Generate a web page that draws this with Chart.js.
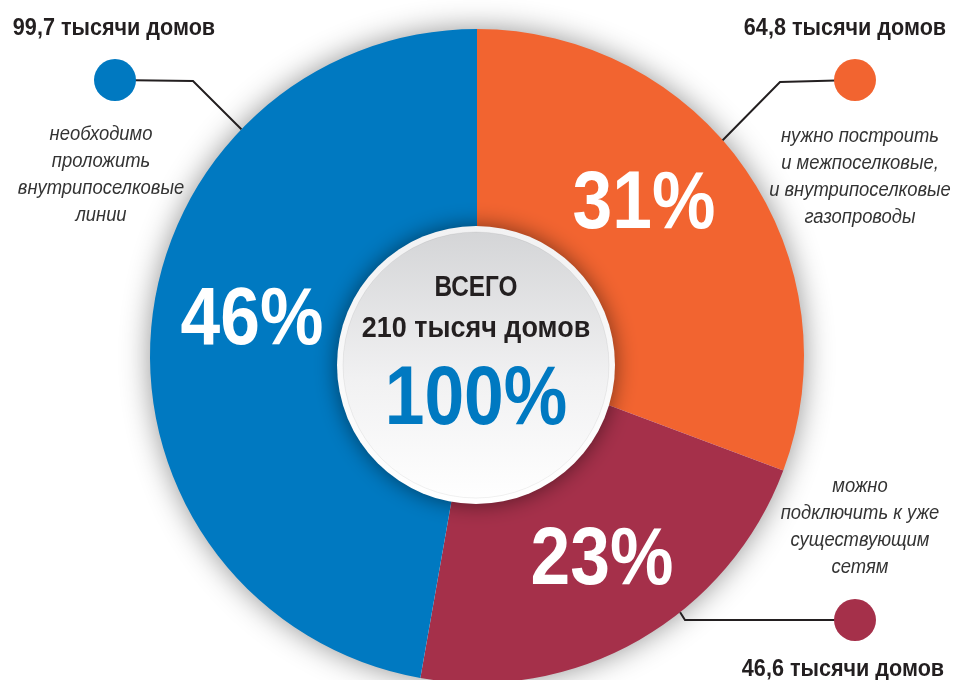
<!DOCTYPE html>
<html>
<head>
<meta charset="utf-8">
<script src="https://cdn.jsdelivr.net/npm/chart.js@4"></script>
<style>
  body { margin: 0; background: #fff; overflow: hidden; }
  #wrap { position: relative; width: 956px; height: 700px; }
  .t { position: absolute; transform: translate(-50%, -50%) scaleX(var(--sx, 0.84)); white-space: nowrap; text-align: center;
       font-family: "Liberation Sans", Arial, sans-serif; }
  .head { font-weight: bold; font-size: 24px; color: #231f20; --sx: 0.9; }
  .note { font-style: italic; font-size: 20px; line-height: 27px; color: #333; --sx: 0.92; }
  .pct { font-weight: bold; font-size: 82px; color: #fff; --sx: 0.87; }
  .mid { font-weight: bold; font-size: 29px; color: #231f20; --sx: 0.84; }
  .mid2 { font-weight: bold; font-size: 29px; color: #231f20; --sx: 0.93; }
  .big { font-weight: bold; font-size: 83px; color: #0079c1; --sx: 0.86; }
</style>
</head>
<body>
<div id="wrap">
  <canvas id="myChart" width="956" height="700"></canvas>
</div>
<script>
// data, clockwise from 12 o'clock
var categories = ["нужно построить и межпоселковые, и внутрипоселковые газопроводы",
                  "можно подключить к уже существующим сетям",
                  "необходимо проложить внутрипоселковые линии"];
var houses = [64.8, 46.6, 99.7]; // тысячи домов
var percentLabels = ["31%", "23%", "46%"];
var houseLabels = ["64,8 тысячи домов", "46,6 тысячи домов", "99,7 тысячи домов"];
var noteLines = [
  ["нужно построить", "и межпоселковые,", "и внутрипоселковые", "газопроводы"],
  ["можно", "подключить к уже", "существующим", "сетям"],
  ["необходимо", "проложить", "внутрипоселковые", "линии"]
];
var totalLabel = ["ВСЕГО", "210 тысяч домов", "100%"];
var colors = ["#f26430", "#a5304a", "#0079c1"];

// layout of the callouts (dot, elbow, angle where the line meets the ring)
var callouts = [
  { dot: [855, 80], elbow: [780, 82], angle: 48.7, head: [845, 27], note: [860, 135] },
  { dot: [855, 620], elbow: [685, 620], angle: 141.6, head: [843, 668], note: [860, 485] },
  { dot: [115, 80], elbow: [193, 81], angle: 313.9, head: [114, 27], note: [101, 133] }
];
var pctPos = [[644, 200], [602, 556], [252, 316]];

var wrap = document.getElementById("wrap");
function addText(cls, txt, x, y) {
  var d = document.createElement("div");
  d.className = "t " + cls;
  d.textContent = txt;
  d.style.left = x + "px";
  d.style.top = y + "px";
  wrap.appendChild(d);
  return d;
}

var ringShadow = {
  id: "ringShadow",
  beforeDatasetsDraw: function (chart) {
    var a = chart.getDatasetMeta(0).data[0];
    var ctx = chart.ctx;
    ctx.save();
    ctx.shadowColor = "rgba(0,0,0,0.45)";
    ctx.shadowBlur = 30;
    ctx.beginPath();
    ctx.arc(a.x, a.y, a.outerRadius - 1, 0, Math.PI * 2);
    ctx.fillStyle = "#fff";
    ctx.fill();
    ctx.restore();
  },
  afterDatasetsDraw: function (chart) {
    var a = chart.getDatasetMeta(0).data[0];
    var ctx = chart.ctx;
    var cx = a.x - 1, cy = a.y + 9, r = 139;
    // center disc
    ctx.save();
    ctx.shadowColor = "rgba(0,0,0,0.5)";
    ctx.shadowBlur = 22;
    ctx.beginPath();
    ctx.arc(cx, cy, r, 0, Math.PI * 2);
    var g = ctx.createLinearGradient(0, cy - r, 0, cy + r);
    g.addColorStop(0, "#f2f2f3");
    g.addColorStop(1, "#ffffff");
    ctx.fillStyle = g;
    ctx.fill();
    ctx.restore();
    ctx.beginPath();
    ctx.arc(cx, cy, r - 6, 0, Math.PI * 2);
    var g2 = ctx.createLinearGradient(0, cy - r, 0, cy + r);
    g2.addColorStop(0, "#d3d4d6");
    g2.addColorStop(0.55, "#f1f1f2");
    g2.addColorStop(1, "#ffffff");
    ctx.fillStyle = g2;
    ctx.fill();
    ctx.strokeStyle = "rgba(0,0,0,0.06)";
    ctx.lineWidth = 1;
    ctx.stroke();

    // callout lines and dots
    callouts.forEach(function (c, i) {
      var ang = c.angle * Math.PI / 180;
      var ex = a.x + Math.sin(ang) * a.outerRadius;
      var ey = a.y - Math.cos(ang) * a.outerRadius;
      ctx.beginPath();
      ctx.moveTo(c.dot[0], c.dot[1]);
      ctx.lineTo(c.elbow[0], c.elbow[1]);
      ctx.lineTo(ex, ey);
      ctx.strokeStyle = "#231f20";
      ctx.lineWidth = 2;
      ctx.stroke();
      ctx.beginPath();
      ctx.arc(c.dot[0], c.dot[1], 21, 0, Math.PI * 2);
      ctx.fillStyle = colors[i];
      ctx.fill();
    });
  }
};

var ctx = document.getElementById("myChart").getContext("2d");
var myChart = new Chart(ctx, {
  type: "doughnut",
  data: {
    labels: categories,
    datasets: [
      {
        label: "тысячи домов",
        data: houses,
        backgroundColor: colors,
        borderWidth: 0,
        hoverOffset: 0
      }
    ]
  },
  options: {
    responsive: false,
    animation: false,
    events: [],
    cutout: "30%",
    layout: { padding: { top: 29, bottom: 17, left: 150, right: 152 } },
    plugins: {
      legend: { display: false },
      tooltip: { enabled: false }
    }
  },
  plugins: [ringShadow]
});

// texts
callouts.forEach(function (c, i) {
  addText("head", houseLabels[i], c.head[0], c.head[1]);
  noteLines[i].forEach(function (line, k) {
    addText("note", line, c.note[0], c.note[1] + k * 27);
  });
  addText("pct", percentLabels[i], pctPos[i][0], pctPos[i][1]);
});
addText("mid", totalLabel[0], 476, 286);
addText("mid2", totalLabel[1], 476, 327);
addText("big", totalLabel[2], 476, 396);
</script>
</body>
</html>
